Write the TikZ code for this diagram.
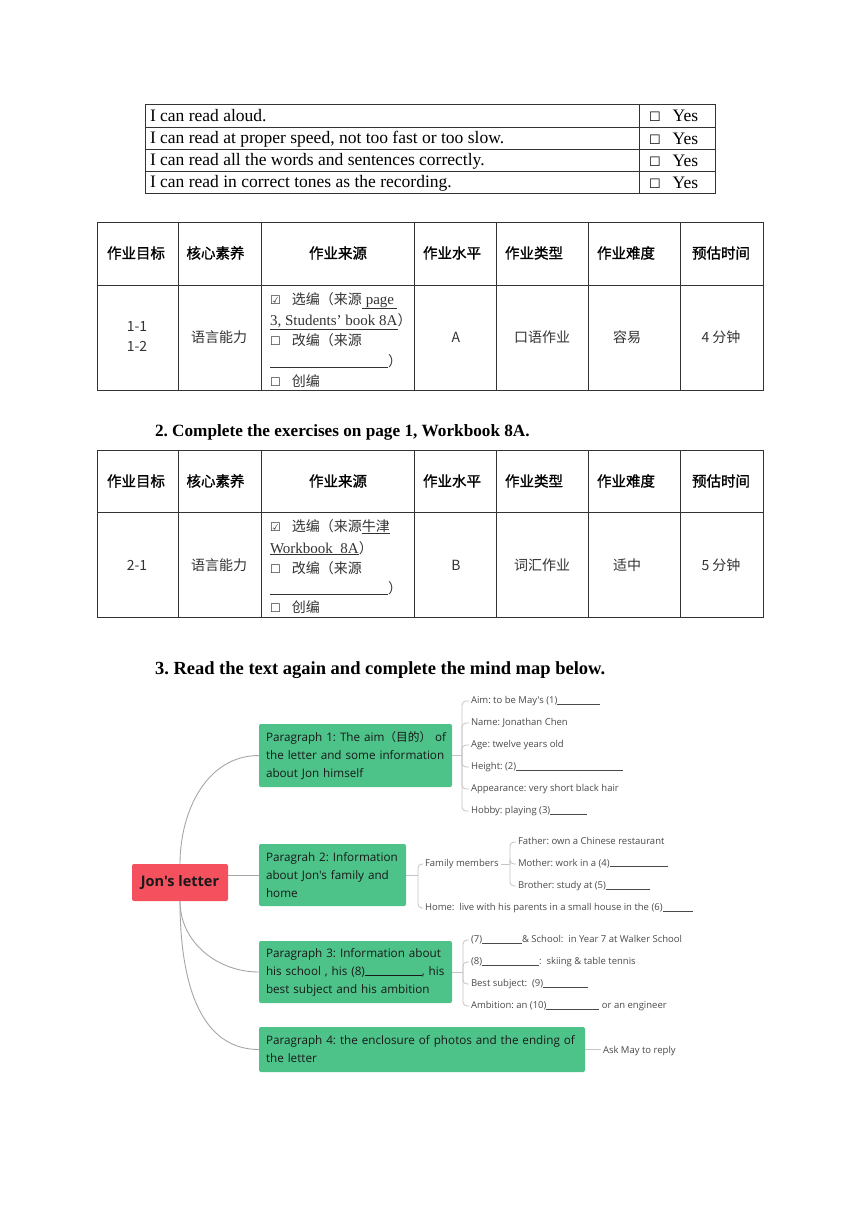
\documentclass[tikz,border=0pt]{standalone}
\usepackage{fontspec}
\usepackage{xcolor}
\setmainfont{Liberation Serif}
\newfontfamily\cjk{Noto Sans CJK SC}
\newfontfamily\cjkhead[FakeBold=1.2]{Noto Sans CJK SC}
\newfontfamily\mapfont{Open Sans}
\newfontfamily\symfont{DejaVu Sans}
\definecolor{mapgreen}{HTML}{4DC38A}
\definecolor{mapred}{HTML}{F5505E}
\definecolor{branchgray}{HTML}{A6A6A6}
\definecolor{forkgray}{HTML}{C4C4C4}
\definecolor{leafgray}{HTML}{4A4A4A}
\newcommand{\blank}[1]{\rule[-0.8pt]{#1}{0.6pt}}
\newcommand{\cbon}{{\symfont\fontsize{12}{12}\selectfont ☑}}
\newcommand{\cboff}{{\symfont\fontsize{12}{12}\selectfont ☐}}

\begin{document}
\frenchspacing
\begin{tikzpicture}[x=1pt,y=-1pt,
  every node/.style={inner sep=0pt,outer sep=0pt},
  tline/.style={line width=0.7pt,draw=black!80},
  rowtext/.style={anchor=base west,font=\fontsize{17.5}{20}\selectfont},
  headcell/.style={font=\cjkhead\fontsize{14.5}{16}\selectfont},
  bodycell/.style={font=\cjk\fontsize{14}{20}\selectfont,text=black!80,align=center},
  srcline/.style={anchor=base west,font=\cjk\fontsize{14}{16}\selectfont,text=black!80},
  heading/.style={anchor=base west,font=\bfseries\fontsize{17.2}{20}\selectfont},
  topic/.style={rectangle,rounded corners=2pt,fill=mapgreen,text=black!90,align=left,
    inner xsep=7pt,font=\mapfont\fontsize{11.7}{18}\selectfont},
  leaf/.style={anchor=west,inner xsep=2pt,font=\mapfont\fontsize{9.5}{11}\selectfont,
    text=leafgray,text height=7pt,text depth=2pt},
  branch/.style={draw=branchgray,line width=0.9pt},
  fork/.style={draw=forkgray,line width=0.8pt,rounded corners=4pt}]

\fill[white] (0,0) rectangle (860,1216);
\useasboundingbox (0,0) rectangle (860,1216);

% self check
\draw[tline] (145,104) rectangle (715,193);
\foreach \y in {127,149,171} \draw[tline] (145,\y) -- (715,\y);
\draw[tline] (639,104) -- (639,193);
\node[rowtext] (r1) at (150,121.5) {I can read aloud.};
\node[rowtext] (r2) at (150,143.5) {I can read at proper speed, not too fast or too slow.};
\node[rowtext] (r3) at (150,165.5) {I can read all the words and sentences correctly.};
\node[rowtext] (r4) at (150,187.5) {I can read in correct tones as the recording.};
\foreach \n/\y in {y1/121.5,y2/144,y3/166,y4/188}
  \node[rowtext] (\n) at (649,\y) {{\symfont\fontsize{13}{13}\selectfont ☐}\hspace{12pt}Yes};

% table 1
\draw[tline] (97,222) rectangle (763,390);
\draw[tline] (97,285) -- (763,285);
\foreach \x in {178,261,414,496,588,680} \draw[tline] (\x,222) -- (\x,390);
\node[headcell] (Ah1) at (136,253) {作业目标};
\node[headcell] (Ah2) at (215.5,253) {核心素养};
\node[headcell] (Ah3) at (338,253) {作业来源};
\node[headcell] (Ah4) at (452,253) {作业水平};
\node[headcell] (Ah5) at (534,253) {作业类型};
\node[headcell] (Ah6) at (626,253) {作业难度};
\node[headcell] (Ah7) at (721,253) {预估时间};
\node[bodycell] (Ab1) at (137,337) {1-1\\1-2};
\node[bodycell] (Ab2) at (219,337) {语言能力};
\node[bodycell] (Ab4) at (456,337) {A};
\node[bodycell] (Ab5) at (542,337) {口语作业};
\node[bodycell] (Ab6) at (627,337) {容易};
\node[bodycell] (Ab7) at (721,337) {4 分钟};
\node[srcline] (As1) at (270,304) {\cbon\hspace{11pt}选编（来源{\rmfamily\fontsize{15}{16}\selectfont\underline{\hspace{4pt}page\hspace{3pt}}}};
\node[srcline] (As2) at (270,325) {{\rmfamily\fontsize{15}{16}\selectfont\underline{3, Students’ book 8A}}）};
\node[srcline] (As3) at (270,345) {\cboff\hspace{11pt}改编（来源};
\node[srcline] (As4) at (270,366) {\rule[-1pt]{118pt}{0.5pt}）};
\node[srcline] (As5) at (270,386) {\cboff\hspace{11pt}创编};

\node[heading] (Q2) at (155,436) {2. Complete the exercises on page 1, Workbook 8A.};

% table 2
\draw[tline] (97,450) rectangle (763,617);
\draw[tline] (97,512) -- (763,512);
\foreach \x in {178,261,414,496,588,680} \draw[tline] (\x,450) -- (\x,617);
\node[headcell] (Bh1) at (136,481) {作业目标};
\node[headcell] (Bh2) at (215.5,481) {核心素养};
\node[headcell] (Bh3) at (338,481) {作业来源};
\node[headcell] (Bh4) at (452,481) {作业水平};
\node[headcell] (Bh5) at (534,481) {作业类型};
\node[headcell] (Bh6) at (626,481) {作业难度};
\node[headcell] (Bh7) at (721,481) {预估时间};
\node[bodycell] (Bb1) at (137,565) {2-1};
\node[bodycell] (Bb2) at (219,565) {语言能力};
\node[bodycell] (Bb4) at (456,565) {B};
\node[bodycell] (Bb5) at (542,565) {词汇作业};
\node[bodycell] (Bb6) at (627,565) {适中};
\node[bodycell] (Bb7) at (721,565) {5 分钟};
\node[srcline] (Bs1) at (270,531) {\cbon\hspace{11pt}选编（来源\underline{牛津}};
\node[srcline] (Bs2) at (270,553) {{\rmfamily\fontsize{15}{16}\selectfont\underline{Workbook\ \ 8A}}）};
\node[srcline] (Bs3) at (270,573) {\cboff\hspace{11pt}改编（来源};
\node[srcline] (Bs4) at (270,593) {\rule[-1pt]{118pt}{0.5pt}）};
\node[srcline] (Bs5) at (270,612) {\cboff\hspace{11pt}创编};

\node[heading,font=\bfseries\fontsize{18.5}{20}\selectfont] (Q3) at (155,674) {3. Read the text again and complete the mind map below.};

% mind map
\node[topic,fill=mapred,minimum width=96pt,minimum height=37pt,align=center,
  font=\mapfont\bfseries\fontsize{14.5}{16}\selectfont] (root) at (180,882.5) {Jon's letter};
\node[topic,text width=179pt,minimum height=63pt] (p1) at (355.5,755.5)
  {\mbox{Paragraph 1: The aim{\cjk（目的）} of}\\the letter and some information\\about Jon himself};
\node[topic,text width=133pt,minimum height=62pt] (p2) at (332.5,875)
  {Paragrah 2: Information\\about Jon's family and\\home};
\node[topic,text width=179pt,minimum height=62pt] (p3) at (355.5,972)
  {Paragraph 3: Information about\\\mbox{his school , his (8)\blank{57pt}, his}\\best subject and his ambition};
\node[topic,text width=312pt,minimum height=45pt] (p4) at (422,1049.5)
  {Paragraph 4: the enclosure of photos and the ending of\\the letter};

\draw[branch] (root.north) to[out=90,in=180] (p1.west);
\draw[branch] (root.east |- p2.west) -- (p2.west);
\draw[branch] (root.south) to[out=-90,in=180] (p3.west);
\draw[branch] (root.south) to[out=-90,in=180] (p4.west);

\coordinate (k1) at (462,755.5);
\node[leaf] (aim) at (469,701) {Aim: to be May's (1)\blank{43pt}};
\node[leaf] (name) at (469,723) {Name: Jonathan Chen};
\node[leaf] (age) at (469,745) {Age: twelve years old};
\node[leaf] (height) at (469,767) {Height: (2)\blank{107pt}};
\node[leaf] (look) at (469,789) {Appearance: very short black hair};
\node[leaf] (hobby) at (469,811) {Hobby: playing (3)\blank{37pt}};
\draw[fork] (p1.east) -- (k1);
\foreach \c in {aim,name,age,height,look,hobby} \draw[fork] (k1) |- (\c.west);

\coordinate (k2) at (418,875);
\node[leaf] (family) at (423,864) {Family members};
\node[leaf] (home) at (423,908) {Home:\ \ live with his parents in a small house in the (6)\blank{30pt}};
\draw[fork] (p2.east) -- (k2);
\foreach \c in {family,home} \draw[fork] (k2) |- (\c.west);
\coordinate (k3) at (510,864);
\node[leaf] (father) at (516,842) {Father: own a Chinese restaurant};
\node[leaf] (mother) at (516,864) {Mother: work in a (4)\rule[-0.8pt]{58pt}{0.9pt}};
\node[leaf] (brother) at (516,886) {Brother: study at (5)\blank{44pt}};
\draw[fork] (family.east) -- (k3);
\foreach \c in {father,mother,brother} \draw[fork] (k3) |- (\c.west);

\coordinate (k4) at (463,972);
\node[leaf] (school) at (469,940) {(7)\blank{40pt}\& School:\ \ in Year 7 at Walker School};
\node[leaf] (sport) at (469,962) {(8)\blank{57pt}:\ \ skiing \& table tennis};
\node[leaf] (subject) at (469,984) {Best subject:\ \ (9)\blank{45pt}};
\node[leaf] (ambition) at (469,1006) {Ambition: an (10)\blank{53pt} or an engineer};
\draw[fork] (p3.east) -- (k4);
\foreach \c in {school,sport,subject,ambition} \draw[fork] (k4) |- (\c.west);

\node[leaf] (reply) at (601,1051) {Ask May to reply};
\draw[fork] (p4.east) -- (p4.east -| reply.west);
\end{tikzpicture}
\end{document}
